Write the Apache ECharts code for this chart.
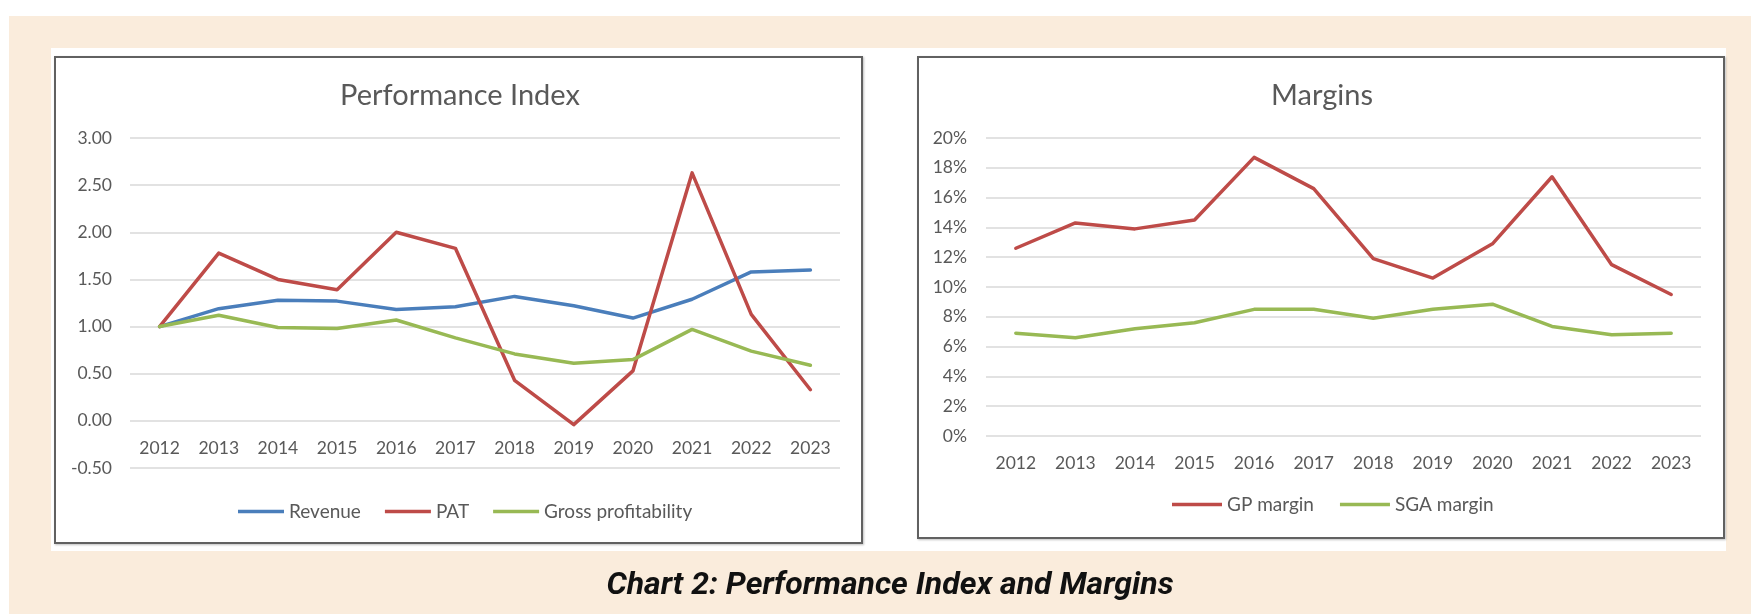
<!DOCTYPE html>
<html>
<head>
<meta charset="utf-8">
<title>Chart 2: Performance Index and Margins</title>
<script src="https://cdn.jsdelivr.net/npm/echarts@6/dist/echarts.min.js"></script>
<style>
  html, body { margin: 0; padding: 0; background: #fff; }
  #wrap { position: relative; width: 1751px; height: 614px; overflow: hidden; }
  .beige { position: absolute; left: 9px; top: 16px; right: 0; bottom: 0; background: #faecdc; }
  .paper { position: absolute; left: 51px; top: 48px; width: 1675px; height: 503px; background: #fff; }
  .box { position: absolute; box-sizing: border-box; border: 2px solid #616161; box-shadow: 1px 1px 2px rgba(0,0,0,0.25); }
  #chart { position: absolute; left: 0; top: 0; width: 1751px; height: 614px; }
</style>
</head>
<body>
<div id="wrap">
  <div class="beige"></div>
  <div class="paper"></div>
  <div class="box" style="left:54px;top:56px;width:809px;height:488px;"></div>
  <div class="box" style="left:917px;top:56px;width:808px;height:483px;"></div>
  <div id="chart"></div>
</div>
<script>
(function() {
  // years on both charts
  var years = ['2012', '2013', '2014', '2015', '2016', '2017', '2018', '2019', '2020', '2021', '2022', '2023'];

  // left chart: performance index (2012 = 1.00)
  var revenue = [1.00, 1.19, 1.28, 1.27, 1.18, 1.21, 1.32, 1.22, 1.09, 1.29, 1.58, 1.60];
  var pat = [1.00, 1.78, 1.50, 1.39, 2.00, 1.83, 0.43, -0.04, 0.53, 2.63, 1.13, 0.33];
  var grossProf = [1.00, 1.12, 0.99, 0.98, 1.07, 0.88, 0.71, 0.61, 0.65, 0.97, 0.74, 0.59];

  // right chart: margins in %
  var gpMargin = [12.6, 14.3, 13.9, 14.5, 18.7, 16.6, 11.9, 10.6, 12.9, 17.4, 11.5, 9.5];
  var sgaMargin = [6.9, 6.6, 7.2, 7.6, 8.5, 8.5, 7.9, 8.5, 8.85, 7.35, 6.8, 6.9];

  var blue = '#4a7ebb', red = '#be4b48', green = '#98b954';
  var textColor = '#595959';
  var gridColor = '#d9d9d9';
  var font = 'Lato';

  var myChart = echarts.init(document.getElementById('chart'));

  function lineSeries(name, data, color, idx) {
    return {
      name: name,
      type: 'line',
      xAxisIndex: idx,
      yAxisIndex: idx,
      data: data,
      symbol: 'none',
      smooth: false,
      lineStyle: { color: color, width: 3.5, join: 'round', cap: 'round' },
      itemStyle: { color: color },
      emphasis: { disabled: true },
      animation: false
    };
  }

  // offset lifts the category labels up to the zero line (excel style)
  function xAxisFor(idx, offset) {
    return {
      gridIndex: idx,
      type: 'category',
      data: years,
      boundaryGap: true,
      position: 'bottom',
      offset: offset,
      axisTick: { show: false },
      axisLine: { show: false, onZero: false },
      axisLabel: { color: textColor, fontFamily: font, fontSize: 17.5, margin: 18 }
    };
  }

  var option = {
    animation: false,
    title: [
      {
        text: 'Performance Index',
        left: 455, top: 76, textAlign: 'center',
        textStyle: { color: textColor, fontFamily: font, fontWeight: 'normal', fontSize: 29 }
      },
      {
        text: 'Margins',
        left: 1317, top: 76, textAlign: 'center',
        textStyle: { color: textColor, fontFamily: font, fontWeight: 'normal', fontSize: 29 }
      },
      {
        text: 'Chart 2: Performance Index and Margins',
        left: 885, top: 565, textAlign: 'center',
        textStyle: { color: '#111', fontFamily: 'Roboto', fontWeight: 'bold', fontStyle: 'italic', fontSize: 32 }
      }
    ],
    legend: [
      {
        data: ['Revenue', 'PAT', 'Gross profitability'],
        left: 238, top: 502, padding: 0,
        icon: 'rect', itemWidth: 46, itemHeight: 3.5, itemGap: 24,
        textStyle: { color: textColor, fontFamily: font, fontSize: 19 }
      },
      {
        data: ['GP margin', 'SGA margin'],
        left: 1172, top: 495, padding: 0,
        icon: 'rect', itemWidth: 50, itemHeight: 3.5, itemGap: 26,
        textStyle: { color: textColor, fontFamily: font, fontSize: 19 }
      }
    ],
    grid: [
      { left: 130, top: 138, width: 710, height: 330 },
      { left: 986, top: 138, width: 715, height: 298 }
    ],
    xAxis: [xAxisFor(0, -47), xAxisFor(1, 0)],
    yAxis: [
      {
        gridIndex: 0, type: 'value', min: -0.5, max: 3, interval: 0.5,
        axisLine: { show: false }, axisTick: { show: false },
        splitLine: { lineStyle: { color: gridColor, width: 1.5 } },
        axisLabel: {
          color: textColor, fontFamily: font, fontSize: 17.5, margin: 18,
          formatter: function(v) { return v.toFixed(2); }
        }
      },
      {
        gridIndex: 1, type: 'value', min: 0, max: 20, interval: 2,
        axisLine: { show: false }, axisTick: { show: false },
        splitLine: { lineStyle: { color: gridColor, width: 1.5 } },
        axisLabel: {
          color: textColor, fontFamily: font, fontSize: 17.5, margin: 19,
          formatter: function(v) { return Math.round(v) + '%'; }
        }
      }
    ],
    series: [
      lineSeries('Revenue', revenue, blue, 0),
      lineSeries('PAT', pat, red, 0),
      lineSeries('Gross profitability', grossProf, green, 0),
      lineSeries('GP margin', gpMargin, red, 1),
      lineSeries('SGA margin', sgaMargin, green, 1)
    ]
  };

  myChart.setOption(option);
  window.addEventListener('resize', function() {
    myChart.resize();
  });
})();
</script>
</body>
</html>
